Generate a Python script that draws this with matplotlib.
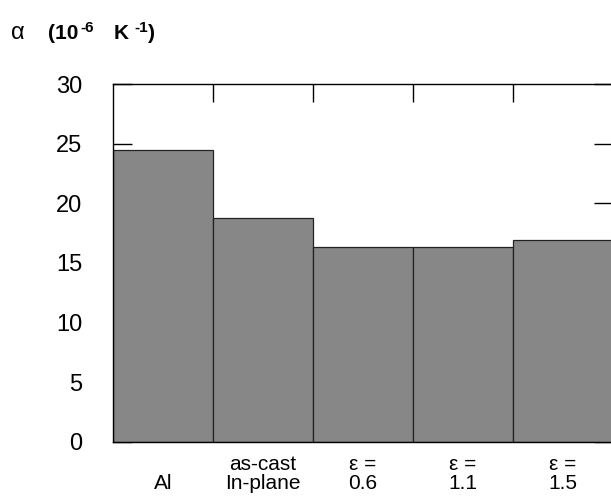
import matplotlib
matplotlib.use("Agg")
import matplotlib.pyplot as plt
from matplotlib.ticker import FixedLocator

plt.rcParams['font.family'] = ['Liberation Sans', 'DejaVu Sans']

categories = ["\nAl", "as-cast\nIn-plane", "\u03b5 =\n0.6", "\u03b5 =\n1.1", "\u03b5 =\n1.5"]
values = [24.5, 18.8, 16.3, 16.3, 16.9]
yticks = [0, 5, 10, 15, 20, 25, 30]

W, H = 611, 500
fig = plt.figure(figsize=(W / 100, H / 100), dpi=100)
ax = fig.add_axes([113 / W, 58.3 / H, 500 / W, 357.7 / H])

xs = list(range(len(values)))
ax.bar(xs, values, width=1.0, align='edge', color='#878787',
       edgecolor='#222222', linewidth=0.9, zorder=2)

ax.set_xlim(0, 5)
ax.set_ylim(0, 30)
ax.set_yticks(yticks)
ax.set_yticklabels([str(v) for v in yticks], fontsize=17)
ax.tick_params(axis='y', which='major', direction='in', length=14, width=1,
               left=True, right=True, pad=22, colors='black')

ax.set_xticks([x + 0.5 for x in xs])
ax.set_xticklabels(categories, fontsize=15, linespacing=1.0)
ax.tick_params(axis='x', which='major', length=0, pad=9.5)
ax.xaxis.set_minor_locator(FixedLocator([1, 2, 3, 4]))
ax.tick_params(axis='x', which='minor', direction='in', length=13, width=1,
               top=True, bottom=False)

for s in ax.spines.values():
    s.set_linewidth(1.0)
    s.set_color('black')
    s.set_zorder(3)

def px(x, ytop):
    return x / W, 1 - ytop / H

base = 39
sup = 32
fig.text(*px(11, base), "\u03b1", fontsize=17, va='baseline', ha='left')
fig.text(*px(48, base), "(10", fontsize=15, fontweight='bold', va='baseline', ha='left')
fig.text(*px(80, sup), "-6", fontsize=11, fontweight='bold', va='baseline', ha='left')
fig.text(*px(114, base), "K", fontsize=15, fontweight='bold', va='baseline', ha='left')
fig.text(*px(134, sup), "-1", fontsize=11, fontweight='bold', va='baseline', ha='left')
fig.text(*px(148, base), ")", fontsize=15, fontweight='bold', va='baseline', ha='left')

fig.savefig("out.png", dpi=100)
